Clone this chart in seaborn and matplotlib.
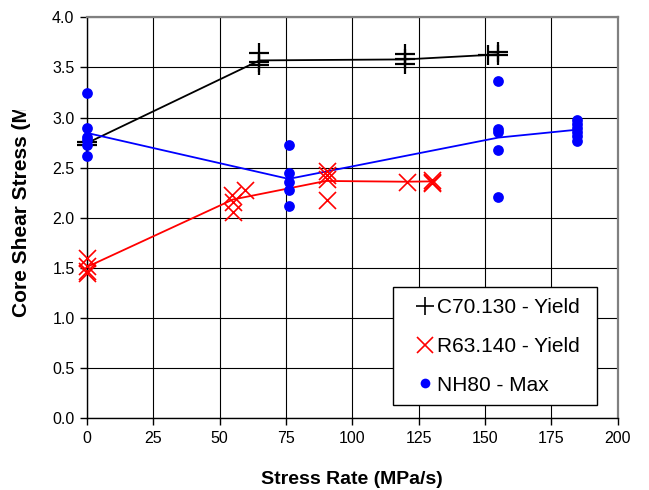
import numpy as np
import pandas as pd
import seaborn as sns
import matplotlib
matplotlib.use("Agg")
import matplotlib.pyplot as plt
from matplotlib.lines import Line2D
from matplotlib.patches import Rectangle
from matplotlib.transforms import Bbox, TransformedBbox

# ---- data ----
# C70.130 - Yield (black plus)
c70_x = [0, 0, 65, 65, 65, 120, 120, 120, 155, 155, 151]
c70_group = [0, 0, 65, 65, 65, 120, 120, 120, 155, 155, 155]
c70_y = [2.76, 2.73, 3.64, 3.55, 3.52, 3.63, 3.58, 3.53, 3.65, 3.62, 3.62]

# R63.140 - Yield (red x)
r63_x = [0, 0, 0, 0, 54.5, 55, 55, 59.5, 90.5, 90.5, 90.5, 90.5, 120.5, 130, 130, 130]
r63_group = [0, 0, 0, 0, 55, 55, 55, 55, 90, 90, 90, 90, 120, 130, 130, 130]
r63_y = [1.60, 1.52, 1.47, 1.45, 2.23, 2.16, 2.06, 2.28, 2.47, 2.43, 2.39, 2.18,
         2.36, 2.38, 2.36, 2.35]

# NH80 - Max (blue dots)
nh80_x = [0] * 6 + [76] * 5 + [155] * 5 + [184.5] * 6
nh80_group = [0] * 6 + [76] * 5 + [155] * 5 + [184.5] * 6
nh80_y = [3.24, 2.90, 2.81, 2.78, 2.73, 2.62,
          2.73, 2.45, 2.36, 2.28, 2.12,
          3.36, 2.89, 2.86, 2.68, 2.21,
          2.98, 2.94, 2.90, 2.86, 2.82, 2.77]

labels = ["C70.130 - Yield", "R63.140 - Yield", "NH80 - Max"]
x_ticks = [0, 25, 50, 75, 100, 125, 150, 175, 200]
y_ticks = [0.0, 0.5, 1.0, 1.5, 2.0, 2.5, 3.0, 3.5, 4.0]

df = pd.concat([
    pd.DataFrame({"series": labels[0], "x": c70_x, "g": c70_group, "y": c70_y}),
    pd.DataFrame({"series": labels[1], "x": r63_x, "g": r63_group, "y": r63_y}),
    pd.DataFrame({"series": labels[2], "x": nh80_x, "g": nh80_group, "y": nh80_y}),
], ignore_index=True)

sns.set_theme(style="white")
plt.rcParams["font.family"] = ["Liberation Sans", "DejaVu Sans"]
plt.rcParams["text.color"] = "black"
plt.rcParams["axes.labelcolor"] = "black"
plt.rcParams["xtick.color"] = "black"
plt.rcParams["ytick.color"] = "black"

fig = plt.figure(figsize=(6.49, 4.90), dpi=100)
ax = fig.add_axes([87 / 649, 1 - 418.3 / 490, 530.7 / 649, 401 / 490])

colors = {labels[0]: "#000000", labels[1]: "#FF0000", labels[2]: "#0000FF"}

# mean lines
for lab in labels:
    sub = df[df.series == lab]
    sns.lineplot(data=sub, x="g", y="y", estimator="mean", errorbar=None,
                 color=colors[lab], lw=1.3, ax=ax, zorder=3)

# points
sub = df[df.series == labels[0]]
sns.scatterplot(data=sub, x="x", y="y", marker="+", s=200, color="#000000",
                linewidth=1.6, ax=ax, zorder=4)
sub = df[df.series == labels[1]]
sns.scatterplot(data=sub, x="x", y="y", marker="x", s=150, color="#FF0000",
                linewidth=1.2, ax=ax, zorder=4)
sub = df[df.series == labels[2]]
sns.scatterplot(data=sub, x="x", y="y", marker="o", s=60, color="#0000FF",
                edgecolor="#0000FF", linewidth=0, ax=ax, zorder=4)
for coll in ax.collections:
    coll.set_clip_on(False)

ax.set_xlim(0, 200)
ax.set_ylim(0, 4)
ax.set_xticks(x_ticks)
ax.set_yticks(y_ticks)
ax.set_yticklabels([f"{v:.1f}" for v in y_ticks])
ax.grid(True, color="#000000", lw=0.8)
ax.set_axisbelow(True)
ax.tick_params(axis="both", direction="out", length=5, width=1, color="black",
               labelsize=11.5, labelcolor="black", pad=4,
               bottom=True, left=True)
for side in ["left", "bottom"]:
    ax.spines[side].set_color("black")
    ax.spines[side].set_linewidth(1.0)
for side in ["top", "right"]:
    ax.spines[side].set_color("#808080")
    ax.spines[side].set_linewidth(1.6)

ax.set_xlabel("Stress Rate (MPa/s)", fontsize=14, fontweight="bold",
              labelpad=18, color="black")
ax.set_ylabel("")

yl = fig.text(22 / 649, 1 - 317 / 490, "Core Shear Stress (MPa)", rotation=90,
              ha="center", va="bottom", fontsize=15, fontweight="bold",
              color="black")
yl.set_clip_box(TransformedBbox(Bbox([[0, 0], [1, 1 - 110 / 490]]), fig.transFigure))
yl.set_clip_on(True)

# legend box (frame drawn as a patch, in axes fractions)
bx0, by0, bw, bh = 0.5765, 0.0324, 0.3843, 0.2943
frame = Rectangle((bx0, by0), bw, bh, transform=ax.transAxes, facecolor="white",
                  edgecolor="black", lw=1.0, zorder=9, clip_on=False)
ax.add_patch(frame)

handles = [
    Line2D([], [], ls="none", marker="+", color="#000000", markersize=13, markeredgewidth=1.2),
    Line2D([], [], ls="none", marker="x", color="#FF0000", markersize=11, markeredgewidth=1.2),
    Line2D([], [], ls="none", marker="o", color="#0000FF", markersize=7, markeredgewidth=0),
]
leg = ax.legend(handles, labels, loc="center",
                bbox_to_anchor=(bx0 + 0.006, by0, bw, bh),
                fontsize=15, frameon=False,
                handlelength=0.8, handletextpad=0.15,
                labelspacing=0.95, borderpad=0.0, borderaxespad=0)
leg.set_zorder(10)
for t in leg.get_texts():
    t.set_color("black")

fig.savefig("out.png", dpi=100, facecolor="white")
